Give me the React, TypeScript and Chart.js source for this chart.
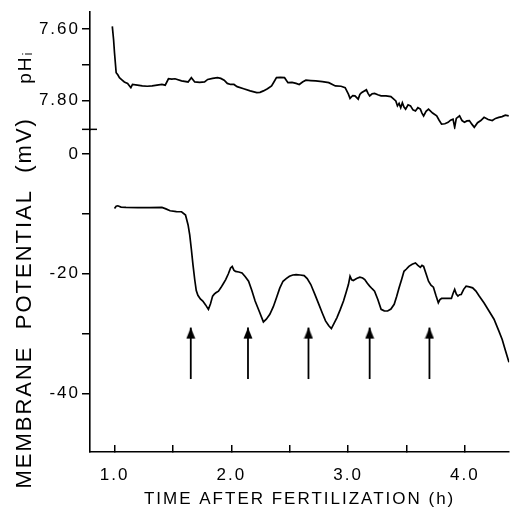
import React, { useEffect, useRef } from "react";
import { Chart, registerables } from "chart.js";

Chart.register(...registerables);

// ---------- data ----------
const PH_TIME = [0.981,0.992,1.0,1.014,1.028,1.042,1.063,1.084,1.112,1.14,1.154,1.196,1.238,1.28,1.322,1.364,1.406,1.434,1.462,1.49,1.518,1.574,1.63,1.658,1.687,1.729,1.771,1.798,1.84,1.882,1.91,1.939,1.966,1.994,2.023,2.05,2.106,2.162,2.218,2.246,2.275,2.31,2.345,2.365,2.387,2.42,2.456,2.485,2.52,2.555,2.582,2.61,2.639,2.68,2.723,2.78,2.835,2.891,2.94,2.975,3.003,3.017,3.04,3.059,3.087,3.101,3.115,3.157,3.171,3.185,3.206,3.227,3.255,3.283,3.325,3.367,3.409,3.423,3.437,3.451,3.465,3.479,3.493,3.514,3.535,3.556,3.577,3.598,3.619,3.633,3.647,3.668,3.689,3.724,3.759,3.78,3.801,3.829,3.857,3.878,3.899,3.913,3.927,3.955,3.976,3.997,4.018,4.039,4.06,4.081,4.109,4.137,4.165,4.2,4.235,4.263,4.291,4.319,4.347,4.376];
const PH_VALUE = [7.5925,7.63,7.667,7.722,7.728,7.736,7.742,7.748,7.752,7.764,7.755,7.757,7.759,7.76,7.759,7.757,7.755,7.757,7.739,7.74,7.739,7.745,7.748,7.736,7.748,7.749,7.748,7.741,7.738,7.736,7.738,7.743,7.752,7.755,7.755,7.761,7.767,7.773,7.778,7.777,7.773,7.767,7.759,7.748,7.736,7.735,7.736,7.75,7.749,7.752,7.755,7.748,7.743,7.744,7.745,7.747,7.75,7.759,7.76,7.764,7.782,7.794,7.786,7.787,7.796,7.783,7.778,7.77,7.78,7.787,7.781,7.78,7.784,7.787,7.787,7.789,7.801,7.815,7.808,7.82,7.806,7.818,7.824,7.812,7.815,7.826,7.829,7.82,7.824,7.835,7.843,7.83,7.824,7.835,7.843,7.855,7.866,7.865,7.861,7.855,7.852,7.875,7.85,7.843,7.856,7.861,7.857,7.856,7.866,7.875,7.862,7.856,7.847,7.853,7.856,7.85,7.847,7.845,7.841,7.843];

const MV_TIME = [1.0,1.014,1.028,1.056,1.098,1.2,1.3,1.406,1.44,1.476,1.53,1.574,1.608,1.63,1.644,1.658,1.672,1.687,1.7,1.714,1.735,1.756,1.78,1.804,1.822,1.84,1.854,1.868,1.89,1.91,1.93,1.952,1.975,1.994,2.008,2.022,2.036,2.064,2.092,2.12,2.148,2.176,2.204,2.24,2.275,2.3,2.33,2.36,2.387,2.415,2.443,2.47,2.498,2.527,2.555,2.59,2.624,2.65,2.681,2.715,2.75,2.78,2.807,2.835,2.857,2.88,2.905,2.933,2.961,2.985,3.003,3.017,3.031,3.045,3.073,3.101,3.125,3.143,3.165,3.185,3.206,3.227,3.255,3.283,3.31,3.339,3.367,3.395,3.416,3.437,3.458,3.479,3.5,3.521,3.549,3.577,3.598,3.619,3.633,3.647,3.668,3.689,3.71,3.731,3.752,3.773,3.787,3.801,3.843,3.885,3.899,3.913,3.927,3.941,3.955,3.969,3.99,4.011,4.039,4.067,4.095,4.123,4.165,4.207,4.25,4.291,4.32,4.347,4.378];
const MV_VALUE = [-9.08,-8.7,-8.63,-8.85,-8.91,-8.95,-8.93,-8.91,-9.15,-9.46,-9.6,-9.63,-10.18,-11.84,-13.5,-15.9,-18.5,-21.0,-22.8,-23.6,-24.2,-24.56,-25.2,-25.95,-25.0,-23.73,-23.4,-23.18,-22.9,-22.35,-21.7,-20.97,-20.0,-19.03,-18.76,-19.4,-19.59,-19.7,-19.86,-20.5,-21.25,-22.8,-24.56,-26.3,-28.05,-27.6,-26.78,-25.5,-24.01,-22.4,-21.25,-20.8,-20.41,-20.2,-20.14,-20.2,-20.3,-20.8,-21.8,-23.4,-25.11,-26.6,-27.88,-28.7,-29.16,-28.3,-27.33,-26.0,-24.56,-23.0,-21.8,-20.41,-21.0,-21.13,-20.8,-20.58,-20.7,-20.97,-21.6,-22.07,-22.5,-22.9,-24.3,-25.95,-26.2,-26.22,-25.9,-25.11,-23.8,-22.35,-21.0,-19.59,-19.2,-18.76,-18.4,-18.2,-18.6,-18.92,-18.6,-18.76,-20.0,-21.25,-21.9,-22.24,-23.6,-24.84,-24.3,-24.12,-24.12,-24.12,-23.3,-22.63,-23.4,-23.73,-23.5,-23.46,-22.6,-22.07,-22.2,-22.35,-22.9,-23.73,-24.9,-26.22,-27.6,-29.54,-31.0,-32.8,-34.8];

const ARROW_TIME = [1.653, 2.143, 2.661, 3.185, 3.697];
const ARROW_BASE = -37.6;
const ARROW_TIP = -29.0;

const X_TICKS = [1.0, 1.5, 2.0, 2.5, 3.0, 3.5, 4.0];
const X_LABELED = [1.0, 2.0, 3.0, 4.0];
const PH_TICKS = [7.6, 7.7, 7.8];
const PH_LABELED = [7.6, 7.8];
const MV_TICKS = [0, -10, -20, -30, -40];
const MV_LABELED = [0, -20, -40];

const X_TITLE = "TIME AFTER FERTILIZATION (h)";
// trailing spaces nudge the centred, rotated title downwards
const MV_TITLE = "MEMBRANE  POTENTIAL  (mV)   ";
const PH_TITLE = " pHᵢ";

const FONT = "'Liberation Sans', Arial, Helvetica, sans-serif";

const isIn = (arr: number[], v: number) => arr.some((a) => Math.abs(a - v) < 1e-6);

export default function App() {
  const ref = useRef<HTMLCanvasElement | null>(null);

  useEffect(() => {
    if (!ref.current) return;

    // arrowhead image: apex at the image centre
    const head = document.createElement("canvas");
    head.width = 10;
    head.height = 24;
    const hc = head.getContext("2d")!;
    hc.fillStyle = "#000";
    hc.beginPath();
    hc.moveTo(5, 12);
    hc.lineTo(9.5, 23);
    hc.lineTo(0.5, 23);
    hc.closePath();
    hc.fill();

    const arrowSets = ARROW_TIME.map((t) => ({
      type: "line" as const,
      data: [
        { x: t, y: ARROW_BASE },
        { x: t, y: ARROW_TIP },
      ],
      xAxisID: "x",
      yAxisID: "yMv",
      borderColor: "#000",
      borderWidth: 1.8,
      pointRadius: [0, 6],
      pointStyle: ["circle", head] as any,
      clip: false as any,
    }));

    const spacing = {
      id: "spacing",
      beforeDraw(chart: any) {
        chart.ctx.letterSpacing = "2px";
      },
      afterDraw(chart: any) {
        const ctx = chart.ctx;
        const s = chart.scales.yPh;
        ctx.save();
        ctx.strokeStyle = "#000";
        ctx.lineWidth = 1.5;
        ctx.beginPath();
        ctx.moveTo(s.right - 8, s.bottom);
        ctx.lineTo(s.right + 7, s.bottom);
        ctx.stroke();
        ctx.restore();
        ctx.letterSpacing = "0px";
      },
    };

    const axisCommon = {
      border: { display: true, color: "#000", width: 1.6 },
      grid: {
        display: true,
        drawOnChartArea: false,
        drawTicks: true,
        color: "#000",
        tickColor: "#000",
        lineWidth: 1.5,
        tickWidth: 1.5,
      },
    };

    const chart = new Chart(ref.current, {
      type: "line",
      data: {
        datasets: [
          {
            data: PH_TIME.map((t, i) => ({ x: t, y: PH_VALUE[i] })),
            xAxisID: "x",
            yAxisID: "yPh",
            borderColor: "#000",
            borderWidth: 1.7,
            pointRadius: 0,
            tension: 0,
          },
          {
            data: MV_TIME.map((t, i) => ({ x: t, y: MV_VALUE[i] })),
            xAxisID: "x",
            yAxisID: "yMv",
            borderColor: "#000",
            borderWidth: 1.7,
            pointRadius: 0,
            tension: 0,
          },
          ...arrowSets,
        ] as any,
      },
      options: {
        responsive: false,
        animation: false,
        parsing: false as any,
        layout: { padding: { top: 9, right: 0, bottom: 0, left: 0 } },
        plugins: { legend: { display: false }, tooltip: { enabled: false } },
        scales: {
          x: {
            type: "linear",
            position: "bottom",
            min: 0.79,
            max: 4.38,
            afterBuildTicks: (s: any) => {
              s.ticks = X_TICKS.map((v) => ({ value: v }));
            },
            afterFit: (s: any) => {
              s.height = 60;
            },
            border: axisCommon.border,
            grid: { ...axisCommon.grid, tickLength: -7 },
            ticks: {
              color: "#000",
              font: { family: FONT, size: 17 },
              padding: 20,
              maxRotation: 0,
              autoSkip: false,
              callback: (v: any) => (isIn(X_LABELED, Number(v)) ? Number(v).toFixed(1) : ""),
            },
            title: {
              display: true,
              text: X_TITLE,
              color: "#000",
              font: { family: FONT, size: 17 },
              padding: { top: 0, bottom: 2 },
            },
          },
          yMv: {
            type: "linear",
            position: "left",
            stack: "v",
            stackWeight: 325,
            weight: 0,
            min: -49.8,
            max: 4.15,
            afterBuildTicks: (s: any) => {
              s.ticks = MV_TICKS.map((v) => ({ value: v }));
            },
            afterFit: (s: any) => {
              s.width = 90;
            },
            border: axisCommon.border,
            grid: { ...axisCommon.grid, tickLength: 8 },
            ticks: {
              color: "#000",
              font: { family: FONT, size: 17 },
              padding: 2,
              callback: (v: any) => (isIn(MV_LABELED, Number(v)) ? String(Number(v)) : ""),
            },
            title: {
              display: true,
              text: MV_TITLE,
              color: "#000",
              font: { family: FONT, size: 22 },
              padding: { top: 12, bottom: 0 },
            },
          },
          yPh: {
            type: "linear",
            position: "left",
            stack: "v",
            stackWeight: 118,
            weight: 1,
            reverse: true,
            min: 7.5528,
            max: 7.8806,
            afterBuildTicks: (s: any) => {
              s.ticks = PH_TICKS.map((v) => ({ value: v }));
            },
            afterFit: (s: any) => {
              s.width = 90;
            },
            border: axisCommon.border,
            grid: { ...axisCommon.grid, tickLength: 8 },
            ticks: {
              color: "#000",
              font: { family: FONT, size: 17 },
              padding: 2,
              callback: (v: any) => (isIn(PH_LABELED, Number(v)) ? Number(v).toFixed(2) : ""),
            },
            title: {
              display: true,
              text: PH_TITLE,
              color: "#000",
              font: { family: FONT, size: 19 },
              padding: { top: 14, bottom: 0 },
            },
          },
        } as any,
      },
      plugins: [spacing],
    });

    return () => chart.destroy();
  }, []);

  return (
    <div style={{ position: "absolute", left: 0, top: 0, width: 517, height: 512, background: "#fff" }}>
      <canvas ref={ref} width={517} height={512} style={{ display: "block" }} />
    </div>
  );
}
